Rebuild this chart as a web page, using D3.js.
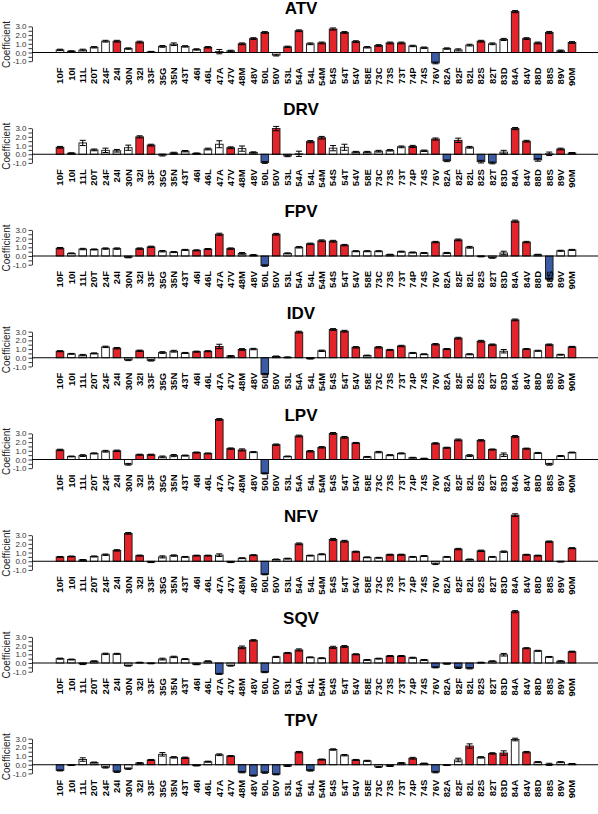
<!DOCTYPE html>
<html><head><meta charset="utf-8">
<script src="https://cdn.jsdelivr.net/npm/d3@7"></script>
<style>body{margin:0;background:#fff}svg{display:block}</style>
</head><body><svg id="c" width="598" height="814"></svg>
<script>
const categories = ["10F","10I","11L","20T","24F","24I","30N","32I","33F","35G","35N","43T","46I","46L","47A","47V","48M","48V","50L","50V","53L","54A","54L","54M","54S","54T","54V","58E","73C","73S","73T","74P","74S","76V","82A","82F","82L","82S","82T","83D","84A","84V","88D","88S","89V","90M"];
const drugs = ["ATV","DRV","FPV","IDV","LPV","NFV","SQV","TPV"];
const yTicks = [-1,-0.5,0,0.5,1,1.5,2,2.5,3];

const atvValues = [0.3,0.15,0.28,0.6,1.3,1.3,0.45,1.2,0.08,0.7,0.95,0.7,0.35,0.6,0.1,0.18,1.0,1.6,2.3,-0.3,0.65,2.5,1.0,1.1,2.7,2.3,1.25,0.6,0.8,1.1,1.1,0.75,0.55,-1.2,0.45,0.3,0.85,1.3,1.0,1.5,4.7,1.6,1.1,2.3,0.2,1.15];
const atvSig = ["w","w","w","w","w","r","w","r","w","w","w","w","w","r","w","w","r","r","r","w","r","r","w","r","r","r","r","w","r","r","r","w","w","b","w","w","w","r","w","w","r","r","r","r","w","r"];
const atvErr = [0.08,0.05,0.1,0.08,0.1,0.1,0.08,0.1,0.05,0.1,0.15,0.08,0.08,0.08,0.25,0.08,0.1,0.1,0.1,0.1,0.08,0.1,0.1,0.1,0.12,0.1,0.1,0.08,0.1,0.1,0.1,0.08,0.08,0.1,0.08,0.12,0.1,0.1,0.1,0.12,0.12,0.1,0.1,0.12,0.08,0.1];

const drvValues = [0.8,0.12,1.3,0.5,0.45,0.4,0.75,2.0,1.05,-0.1,0.15,0.35,0.1,0.6,1.15,0.75,0.65,0.2,-0.95,2.95,-0.2,0.05,1.45,1.9,0.7,0.8,0.25,0.25,0.35,0.45,0.85,0.9,0.4,1.75,-0.75,1.6,0.8,-0.85,-1.0,0.25,2.95,1.5,-0.65,0.05,0.6,0.15];
const drvSig = ["r","w","w","w","w","w","w","r","r","w","w","w","w","w","w","r","w","w","b","r","w","w","r","r","w","w","w","w","w","w","w","r","w","r","b","r","w","b","b","w","r","r","b","w","r","w"];
const drvErr = [0.1,0.05,0.3,0.1,0.25,0.15,0.3,0.12,0.1,0.1,0.08,0.08,0.05,0.1,0.4,0.1,0.3,0.08,0.1,0.25,0.08,0.3,0.12,0.15,0.3,0.35,0.08,0.08,0.1,0.08,0.1,0.12,0.08,0.12,0.1,0.25,0.1,0.15,0.1,0.2,0.12,0.1,0.15,0.2,0.1,0.05];

const fpvValues = [0.9,0.3,0.8,0.75,0.85,0.85,-0.15,0.85,1.05,0.55,0.45,0.7,0.65,0.8,2.5,0.85,0.3,0.1,-1.1,2.5,0.3,1.0,1.4,1.75,1.7,1.25,0.55,0.55,0.55,0.15,0.5,0.4,0.35,1.6,0.35,1.85,1.0,-0.05,-0.2,0.35,4.0,1.6,0.15,-2.65,0.6,0.7];
const fpvSig = ["r","w","w","w","w","w","w","r","r","w","w","w","r","r","r","r","w","w","b","r","w","w","r","r","r","r","w","w","w","w","w","w","w","r","w","r","w","w","w","w","r","r","w","b","w","w"];
const fpvErr = [0.08,0.05,0.08,0.06,0.08,0.08,0.06,0.08,0.08,0.08,0.06,0.06,0.06,0.06,0.12,0.08,0.1,0.06,0.08,0.1,0.06,0.08,0.08,0.1,0.1,0.08,0.06,0.06,0.06,0.05,0.06,0.06,0.05,0.08,0.06,0.1,0.1,0.05,0.06,0.2,0.12,0.08,0.05,0.1,0.06,0.06];

const idvValues = [0.75,0.45,0.3,0.5,1.25,1.1,-0.25,0.8,-0.3,0.6,0.75,0.55,0.7,0.75,1.3,0.2,0.95,1.0,-1.9,0.15,0.05,2.95,-0.1,0.8,3.25,3.05,1.2,0.25,1.2,0.9,1.35,0.55,0.4,1.55,1.0,2.25,0.4,1.9,1.5,0.75,4.35,1.0,0.8,1.5,0.35,1.25];
const idvSig = ["r","w","w","w","w","r","w","r","w","w","w","w","r","r","r","w","r","w","b","w","w","r","w","w","r","r","r","w","r","r","r","w","w","r","r","r","w","r","r","w","r","r","w","r","w","r"];
const idvErr = [0.06,0.05,0.08,0.06,0.08,0.08,0.08,0.08,0.08,0.1,0.1,0.06,0.06,0.06,0.25,0.05,0.1,0.08,0.08,0.05,0.05,0.1,0.05,0.08,0.1,0.1,0.08,0.05,0.08,0.06,0.08,0.06,0.05,0.08,0.06,0.1,0.06,0.1,0.08,0.2,0.1,0.06,0.06,0.08,0.05,0.06];

const lpvValues = [1.1,0.35,0.45,0.7,0.95,1.0,-0.55,0.55,0.55,0.3,0.45,0.45,0.8,0.7,4.6,1.25,1.1,0.85,-1.6,1.7,0.35,2.7,0.95,1.4,3.0,2.55,1.9,0.3,0.85,0.5,0.7,0.2,0.1,1.85,1.35,2.25,0.45,2.2,1.15,0.55,2.65,1.25,0.75,-0.55,0.4,0.8];
const lpvSig = ["r","w","w","w","w","r","w","r","r","w","w","w","r","r","r","r","r","w","b","r","w","r","r","r","r","r","r","w","w","w","w","w","w","r","r","r","w","r","r","w","r","r","w","w","w","w"];
const lpvErr = [0.08,0.05,0.1,0.06,0.1,0.08,0.1,0.06,0.06,0.1,0.12,0.06,0.06,0.05,0.1,0.08,0.12,0.06,0.06,0.08,0.05,0.1,0.08,0.08,0.1,0.1,0.06,0.05,0.08,0.06,0.06,0.05,0.05,0.08,0.06,0.1,0.1,0.08,0.06,0.2,0.1,0.06,0.06,0.1,0.06,0.05];

const nfvValues = [0.5,0.55,0.15,0.55,0.75,1.25,3.2,0.65,-0.1,0.5,0.65,0.5,0.65,0.65,0.7,-0.1,0.35,0.7,-1.5,0.2,0.3,2.0,0.65,0.8,2.5,2.3,1.1,0.45,0.4,0.75,0.75,0.5,0.6,-0.3,0.5,1.4,0.2,1.2,0.5,1.1,5.3,0.75,0.65,2.25,-0.05,1.5];
const nfvSig = ["r","r","w","w","w","r","r","r","w","w","w","w","r","r","w","w","w","r","b","w","w","r","w","w","r","r","r","w","w","r","r","w","w","w","w","r","w","r","w","w","r","r","r","r","w","r"];
const nfvErr = [0.05,0.05,0.05,0.06,0.08,0.08,0.1,0.06,0.05,0.12,0.08,0.05,0.05,0.05,0.15,0.05,0.05,0.05,0.06,0.05,0.05,0.1,0.05,0.06,0.12,0.1,0.06,0.05,0.05,0.06,0.06,0.05,0.05,0.08,0.05,0.08,0.06,0.08,0.05,0.08,0.15,0.05,0.05,0.08,0.04,0.06];

const sqvValues = [0.5,0.4,-0.1,0.2,1.05,1.05,-0.3,0.05,-0.05,0.45,0.7,0.45,-0.15,0.2,-1.25,-0.3,1.8,2.6,-1.05,0.7,1.15,1.5,0.65,0.55,1.8,1.9,1.0,0.35,0.5,0.8,0.8,0.6,0.35,-0.5,-0.1,-0.55,-0.6,0.05,0.2,0.95,5.9,1.7,1.4,0.7,0.2,1.3];
const sqvSig = ["w","w","w","w","w","w","w","w","w","w","w","w","w","w","b","w","r","r","b","w","r","r","w","w","r","r","r","w","w","r","r","w","w","b","w","b","b","w","w","w","r","r","w","w","w","r"];
const sqvErr = [0.06,0.05,0.08,0.05,0.08,0.06,0.06,0.04,0.04,0.1,0.08,0.05,0.05,0.05,0.06,0.06,0.15,0.08,0.06,0.06,0.06,0.12,0.05,0.05,0.12,0.1,0.06,0.05,0.05,0.06,0.06,0.06,0.05,0.06,0.04,0.08,0.08,0.04,0.05,0.15,0.12,0.06,0.06,0.05,0.06,0.06];

const tpvValues = [-0.65,-0.05,0.6,0.25,-0.3,-0.8,-0.45,0.2,0.55,1.2,0.85,0.8,-0.1,0.35,1.15,1.0,-0.85,-1.25,-0.9,-1.1,-0.15,1.45,-0.65,0.6,1.75,1.1,0.55,0.45,-0.25,-0.15,0.2,0.75,0.15,-0.85,-0.05,0.55,2.15,0.85,1.3,1.35,2.9,1.45,0.3,0.05,0.3,0.1];
const tpvSig = ["b","w","w","w","w","b","w","w","r","w","w","r","w","w","w","r","b","b","b","b","w","r","b","r","w","w","r","w","w","w","w","r","w","b","w","w","r","w","r","r","w","r","w","w","w","w"];
const tpvErr = [0.06,0.04,0.2,0.06,0.08,0.08,0.08,0.05,0.06,0.2,0.08,0.08,0.04,0.06,0.1,0.06,0.08,0.06,0.08,0.06,0.05,0.08,0.08,0.06,0.08,0.08,0.06,0.06,0.06,0.05,0.05,0.1,0.04,0.08,0.04,0.2,0.25,0.08,0.08,0.25,0.15,0.08,0.06,0.12,0.06,0.04];

const panels = [
  [atvValues, atvSig, atvErr], [drvValues, drvSig, drvErr], [fpvValues, fpvSig, fpvErr],
  [idvValues, idvSig, idvErr], [lpvValues, lpvSig, lpvErr], [nfvValues, nfvSig, nfvErr],
  [sqvValues, sqvSig, sqvErr], [tpvValues, tpvSig, tpvErr]
];

const fillFor = {r: "#e3242b", w: "#ffffff", b: "#3b5ba5"};
const FONT = "'Liberation Sans', Arial, Helvetica, sans-serif";

const svg = d3.select("#c");
const pitch = 101.75, zero0 = 52.5, unit = 8.7;
const axisX = 32;
const x = d3.scalePoint().domain(categories).range([60, 572]);
const barW = 7.6;

drugs.forEach((drug, i) => {
  const [vals, sig, err] = panels[i];
  const z = zero0 + pitch * i;
  const y = d3.scaleLinear().domain([-1, 3]).range([z + unit, z - 3 * unit]);
  const g = svg.append("g");

  // title
  g.append("text").attr("x", 301).attr("y", z - 39)
    .attr("text-anchor", "middle").attr("font-family", FONT)
    .attr("font-weight", "bold").attr("font-size", 17).text(drug);

  // y label
  g.append("text").attr("transform", `translate(10,${z - 8}) rotate(-90)`)
    .attr("text-anchor", "middle").attr("font-family", FONT)
    .attr("font-size", 10).attr("fill", "#222").text("Coefficient");

  // y axis
  const ax = g.append("g").attr("transform", `translate(${axisX},0)`)
    .call(d3.axisLeft(y).tickValues(yTicks).tickSize(3.5).tickSizeOuter(0).tickPadding(2)
      .tickFormat(d => Number.isInteger(d) ? d.toFixed(1) : ""));
  ax.selectAll("text").attr("font-family", FONT).attr("font-size", 8).attr("fill", "#333");
  ax.selectAll("line,path").attr("stroke", "#222").attr("stroke-width", 0.9);

  // bars
  g.selectAll("rect.bar").data(categories).join("rect")
    .attr("x", c => x(c) - barW / 2)
    .attr("width", barW)
    .attr("y", (c, k) => Math.min(y(vals[k]), y(0)))
    .attr("height", (c, k) => Math.abs(y(vals[k]) - y(0)))
    .attr("fill", (c, k) => fillFor[sig[k]])
    .attr("stroke", "#111").attr("stroke-width", 0.9);

  // zero line
  g.append("line").attr("x1", axisX).attr("x2", 598)
    .attr("y1", y(0)).attr("y2", y(0)).attr("stroke", "#000").attr("stroke-width", 1.2);

  // error bars
  const eg = g.append("g").attr("stroke", "#000").attr("stroke-width", 1);
  categories.forEach((c, k) => {
    const cx = x(c), lo = y(vals[k] - err[k]), hi = y(vals[k] + err[k]);
    eg.append("line").attr("x1", cx).attr("x2", cx).attr("y1", lo).attr("y2", hi);
    eg.append("line").attr("x1", cx - 3).attr("x2", cx + 3).attr("y1", lo).attr("y2", lo);
    eg.append("line").attr("x1", cx - 3).attr("x2", cx + 3).attr("y1", hi).attr("y2", hi);
  });

  // x labels
  g.selectAll("text.xl").data(categories).join("text")
    .attr("transform", c => `translate(${x(c) + 3.3},${z + 15}) rotate(-90)`)
    .attr("text-anchor", "end").attr("font-family", FONT)
    .attr("font-weight", "bold").attr("font-size", 9.5).text(c => c);
});
</script></body></html>
